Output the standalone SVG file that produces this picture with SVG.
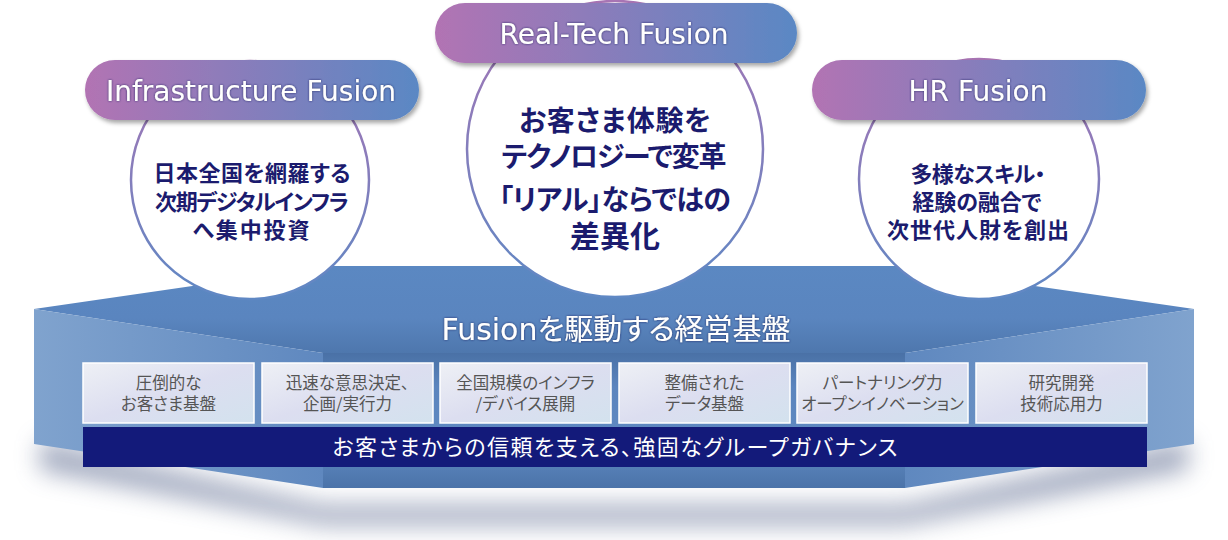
<svg xmlns="http://www.w3.org/2000/svg" width="1228" height="540" viewBox="0 0 1228 540">
<defs>
<linearGradient id="pillGrad" x1="0" y1="0" x2="1" y2="0"><stop offset="0" stop-color="#b273b3"/><stop offset="1" stop-color="#5a88c4"/></linearGradient>
<linearGradient id="ringGrad" x1="0" y1="0" x2="0" y2="1"><stop offset="0" stop-color="#a874b4"/><stop offset="1" stop-color="#5f88c4"/></linearGradient>
<linearGradient id="topFace" gradientUnits="userSpaceOnUse" x1="0" y1="266" x2="0" y2="353"><stop offset="0" stop-color="#5b88c2"/><stop offset="0.6" stop-color="#5a85bf"/><stop offset="1" stop-color="#4e77ad"/></linearGradient>
<linearGradient id="frontFace" gradientUnits="userSpaceOnUse" x1="0" y1="353" x2="0" y2="488"><stop offset="0" stop-color="#4a71a6"/><stop offset="0.25" stop-color="#5b85be"/><stop offset="0.7" stop-color="#5f89c1"/><stop offset="1" stop-color="#4b73a9"/></linearGradient>
<linearGradient id="leftSide" gradientUnits="userSpaceOnUse" x1="34" y1="0" x2="323" y2="0"><stop offset="0" stop-color="#80a3ce"/><stop offset="1" stop-color="#5f88bf"/></linearGradient>
<linearGradient id="rightSide" gradientUnits="userSpaceOnUse" x1="1194" y1="0" x2="905" y2="0"><stop offset="0" stop-color="#80a3ce"/><stop offset="1" stop-color="#5f88bf"/></linearGradient>
<linearGradient id="boxGrad" x1="0" y1="0" x2="1" y2="1"><stop offset="0" stop-color="#eef0f5"/><stop offset="0.5" stop-color="#dcdef0"/><stop offset="1" stop-color="#d3e2ee"/></linearGradient>
<filter id="blur" x="-10%" y="-60%" width="120%" height="220%"><feGaussianBlur stdDeviation="12"/></filter>
<filter id="pillShadow" x="-10%" y="-30%" width="120%" height="170%"><feDropShadow dx="2" dy="3" stdDeviation="2" flood-color="#000" flood-opacity="0.35"/></filter>
<filter id="textGlow" x="-10%" y="-40%" width="120%" height="180%"><feDropShadow dx="0" dy="0" stdDeviation="1.2" flood-color="#1a2060" flood-opacity="0.9"/></filter>
<style>
.pill-text{font-family:"DejaVu Sans","Noto Sans",sans-serif;font-size:28px;fill:#fff;text-anchor:middle}
.circle{fill:#fff;stroke:url(#ringGrad);stroke-width:2.5}
.circle-text{font-family:"Noto Sans CJK JP",sans-serif;font-weight:bold;fill:#1b1b6e;text-anchor:middle;font-feature-settings:"palt"}
.box{fill:url(#boxGrad);stroke:#ffffff;stroke-width:1.5}
.box-text{font-family:"Noto Sans CJK JP",sans-serif;font-size:16.5px;fill:#555;text-anchor:middle;font-feature-settings:"palt"}
.title-text{font-family:"Noto Sans CJK JP",sans-serif;font-size:29px;fill:#fff;text-anchor:middle;font-feature-settings:"palt"}
.title-latin{font-family:"DejaVu Sans","Noto Sans",sans-serif;font-size:30px}
.bar-text{font-family:"Noto Sans CJK JP",sans-serif;font-size:22px;fill:#fff;text-anchor:middle;font-feature-settings:"palt"}
</style>
</defs>

<g id="platform">
<polygon points="40,440 323,505 905,505 1188,440 1188,470 905,525 323,525 40,470" fill="#55648a" opacity="0.55" filter="url(#blur)"/>
<polygon points="34,309 330,266 898,266 1194,309 905,353 323,353" fill="url(#topFace)"/>
<polygon points="323,353 905,353 905,488 323,488" fill="url(#frontFace)"/>
<polygon points="34,309 323,353 323,488 34,444" fill="url(#leftSide)"/>
<polygon points="1194,309 905,353 905,488 1194,444" fill="url(#rightSide)"/>
<text class="title-text" x="616" y="340" filter="url(#textGlow)"><tspan class="title-latin">Fusion</tspan>を駆動する経営基盤</text>
</g>

<g id="box-1"><rect class="box" x="83" y="363" width="171" height="60"/><text class="box-text" x="168.5" y="389">圧倒的な</text><text class="box-text" x="168.5" y="410">お客さま基盤</text></g>
<g id="box-2"><rect class="box" x="262" y="363" width="171" height="60"/><text class="box-text" x="347.5" y="389">迅速な意思決定、</text><text class="box-text" x="347.5" y="410">企画/実行力</text></g>
<g id="box-3"><rect class="box" x="440" y="363" width="171" height="60"/><text class="box-text" x="525.5" y="389">全国規模のインフラ</text><text class="box-text" x="525.5" y="410">/デバイス展開</text></g>
<g id="box-4"><rect class="box" x="619" y="363" width="171" height="60"/><text class="box-text" x="704.5" y="389">整備された</text><text class="box-text" x="704.5" y="410">データ基盤</text></g>
<g id="box-5"><rect class="box" x="797" y="363" width="171" height="60"/><text class="box-text" x="882.5" y="389">パートナリング力</text><text class="box-text" x="882.5" y="410">オープンイノベーション</text></g>
<g id="box-6"><rect class="box" x="976" y="363" width="171" height="60"/><text class="box-text" x="1061.5" y="389">研究開発</text><text class="box-text" x="1061.5" y="410">技術応用力</text></g>

<g id="governance-bar"><rect x="83" y="427" width="1064" height="40" fill="#131a7a"/><text class="bar-text" x="615" y="455" textLength="565" lengthAdjust="spacing">お客さまからの信頼を支える、強固なグループガバナンス</text></g>

<g id="infrastructure-fusion">
<circle class="circle" cx="250" cy="180" r="119"/>
<text class="circle-text" font-size="22" x="252" y="181" textLength="197" lengthAdjust="spacing">日本全国を網羅する</text>
<text class="circle-text" font-size="22" x="252" y="210" textLength="194" lengthAdjust="spacing">次期デジタルインフラ</text>
<text class="circle-text" font-size="22" x="251" y="238" textLength="117" lengthAdjust="spacing">へ集中投資</text>
<rect x="85" y="60" width="334" height="60" rx="30" fill="url(#pillGrad)" filter="url(#pillShadow)"/>
<text class="pill-text" x="251" y="101" filter="url(#textGlow)">Infrastructure Fusion</text>
</g>

<g id="real-tech-fusion">
<circle class="circle" cx="615" cy="149" r="148"/>
<text class="circle-text" font-size="28" x="615" y="131" textLength="192" lengthAdjust="spacing">お客さま体験を</text>
<text class="circle-text" font-size="28" x="614" y="167" textLength="225" lengthAdjust="spacing">テクノロジーで変革</text>
<text class="circle-text" font-size="28" x="615" y="210" textLength="232" lengthAdjust="spacing">「リアル」ならではの</text>
<text class="circle-text" font-size="30" x="615" y="247">差異化</text>
<rect x="435" y="3" width="362" height="60" rx="30" fill="url(#pillGrad)" filter="url(#pillShadow)"/>
<text class="pill-text" x="614" y="44" filter="url(#textGlow)">Real-Tech Fusion</text>
</g>

<g id="hr-fusion">
<circle class="circle" cx="979" cy="179" r="120"/>
<text class="circle-text" font-size="22" x="978" y="182" textLength="135" lengthAdjust="spacing">多様なスキル・</text>
<text class="circle-text" font-size="22" x="977" y="210" textLength="129" lengthAdjust="spacing">経験の融合で</text>
<text class="circle-text" font-size="22" x="978" y="238" textLength="182" lengthAdjust="spacing">次世代人財を創出</text>
<rect x="812" y="60" width="334" height="60" rx="30" fill="url(#pillGrad)" filter="url(#pillShadow)"/>
<text class="pill-text" x="978" y="101" filter="url(#textGlow)">HR Fusion</text>
</g>
</svg>
